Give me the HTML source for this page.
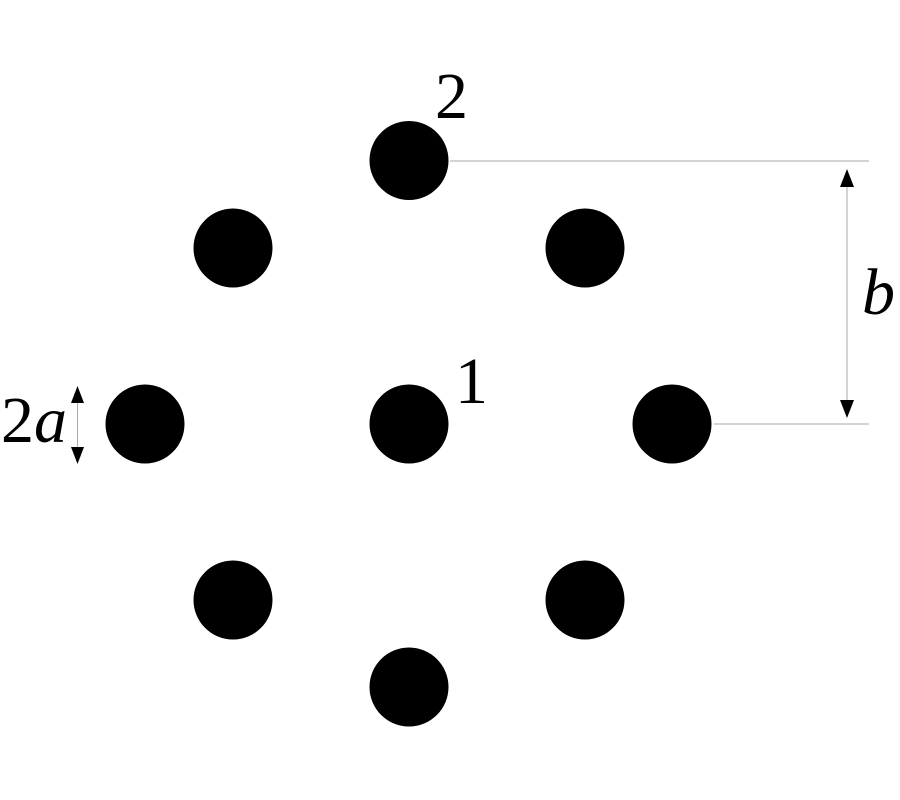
<!DOCTYPE html>
<html><head><meta charset="utf-8"><style>html,body{margin:0;padding:0;background:#fff;}svg{display:block}
.t{font-family:"Liberation Serif","DejaVu Serif",serif;font-size:66px;fill:#000;}</style></head>
<body>
<svg width="900" height="800" viewBox="0 0 900 800" xmlns="http://www.w3.org/2000/svg">
<g fill="#000">
<circle cx="409" cy="160.5" r="39.5"/>
<circle cx="233" cy="248" r="39.5"/>
<circle cx="585" cy="248" r="39.5"/>
<circle cx="145" cy="424" r="39.5"/>
<circle cx="409" cy="424" r="39.5"/>
<circle cx="672" cy="424" r="39.5"/>
<circle cx="233" cy="600" r="39.5"/>
<circle cx="585" cy="600" r="39.5"/>
<circle cx="409" cy="687" r="39.5"/>
</g>
<g stroke="#aaa" stroke-width="1">
<line x1="450" y1="161" x2="869" y2="161"/>
<line x1="714" y1="424" x2="869" y2="424"/>
<line x1="847" y1="180" x2="847" y2="406"/>
<line x1="77.5" y1="398" x2="77.5" y2="452"/>
</g>
<g fill="#000">
<polygon points="847,169 840,187 854,187"/>
<polygon points="847,418 840,400 854,400"/>
<polygon points="77.5,386 71,403 84,403"/>
<polygon points="77.5,464 71,447 84,447"/>
</g>
<text class="t" x="435" y="118">2</text>
<text class="t" x="455" y="403">1</text>
<text class="t" x="1" y="442">2<tspan style="font-style:italic">a</tspan></text>
<text class="t" x="862" y="314" style="font-style:italic">b</text>
</svg>
</body></html>
